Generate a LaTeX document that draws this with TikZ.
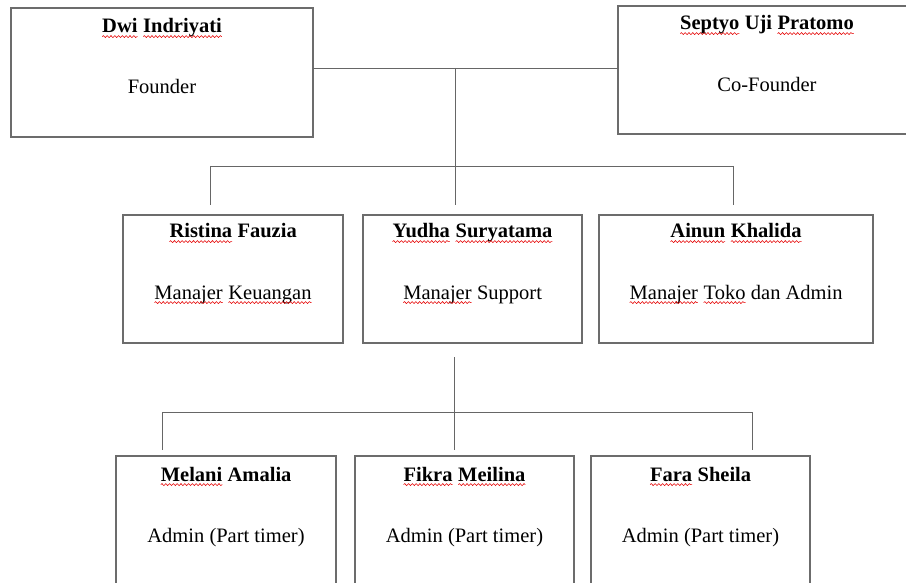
\documentclass[tikz,border=0pt]{standalone}
\usepackage{fontspec}
\setmainfont{Liberation Serif}
\usetikzlibrary{decorations.pathmorphing}
\newcommand\sq[1]{\tikz[baseline=(sqw.base),x=1pt,y=1pt]{\node[inner sep=0pt,outer sep=0pt,anchor=base] (sqw) {#1};
  \draw[red!90!black,line width=0.55pt,decorate,decoration={snake,amplitude=1pt,segment length=3.8pt}] ([yshift=-3.6pt]sqw.base west) -- ([yshift=-3.6pt]sqw.base east);}}
\begin{document}
\begin{tikzpicture}[x=1pt,y=-1pt,
  box/.style={draw=gray!85!black,line width=1.1pt,rectangle,inner sep=0pt},
  conn/.style={draw=gray!80!black,line width=0.9pt},
  nm/.style={anchor=base,font=\fontsize{20.5}{24}\selectfont\bfseries,inner sep=0pt},
  rl/.style={anchor=base,font=\fontsize{20.5}{24}\selectfont,inner sep=0pt}]
\useasboundingbox (0,0) rectangle (906,583);
\clip (0,0) rectangle (906,583);
% top level
\node[box,minimum width=302pt,minimum height=129pt] (dwi) at (162,72.5) {};
\node[box,minimum width=298pt,minimum height=128pt] (sep) at (767,70) {};
\node[nm] (dwin) at (162,33) {\sq{Dwi} \sq{Indriyati}};
\node[rl] (dwir) at (162,94) {Founder};
\node[nm] (sepn) at (767,30) {\sq{Septyo} Uji \sq{Pratomo}};
\node[rl] (sepr) at (767,92) {Co-Founder};
% middle level
\node[box,minimum width=220pt,minimum height=128pt] (ris) at (233,279) {};
\node[box,minimum width=219pt,minimum height=128pt] (yud) at (472.5,279) {};
\node[box,minimum width=274pt,minimum height=128pt] (ain) at (736,279) {};
\node[nm] (risn) at (233,238) {\sq{Ristina} Fauzia};
\node[rl] (risr) at (233,299) {\sq{Manajer} \sq{Keuangan}};
\node[nm] (yudn) at (472.5,238) {\sq{Yudha} \sq{Suryatama}};
\node[rl] (yudr) at (472.5,299) {\sq{Manajer} Support};
\node[nm] (ainn) at (736,238) {\sq{Ainun} \sq{Khalida}};
\node[rl] (ainr) at (736,299) {\sq{Manajer} \sq{Toko} dan Admin};
% bottom level
\node[box,minimum width=220pt,minimum height=150pt] (mel) at (226,531) {};
\node[box,minimum width=219pt,minimum height=150pt] (fik) at (464.5,531) {};
\node[box,minimum width=219pt,minimum height=150pt] (far) at (700.5,531) {};
\node[nm] (meln) at (226,481) {\sq{Melani} Amalia};
\node[rl] (melr) at (226,542) {Admin (Part timer)};
\node[nm] (fikn) at (464.5,481) {\sq{Fikra} \sq{Meilina}};
\node[rl] (fikr) at (464.5,542) {Admin (Part timer)};
\node[nm] (farn) at (700.5,481) {\sq{Fara} Sheila};
\node[rl] (farr) at (700.5,542) {Admin (Part timer)};
% connector coordinates
\coordinate (t1) at (313,68);
\coordinate (t2) at (618,68);
\coordinate (tj) at (455,68);
\coordinate (mj) at (455,166);
\coordinate (ml) at (210,166);
\coordinate (mr) at (733,166);
\coordinate (dl) at (210,205);
\coordinate (dc) at (455,205);
\coordinate (dr) at (733,205);
\coordinate (s1) at (454,357);
\coordinate (bj) at (454,412);
\coordinate (bl) at (162,412);
\coordinate (br) at (752,412);
\coordinate (el) at (162,450);
\coordinate (ec) at (454,450);
\coordinate (er) at (752,450);
% connectors
\draw[conn] (t1) -- (t2);
\draw[conn] (tj) -- (mj);
\draw[conn] (ml) -- (mr);
\draw[conn] (ml) -- (dl);
\draw[conn] (mj) -- (dc);
\draw[conn] (mr) -- (dr);
\draw[conn] (s1) -- (bj);
\draw[conn] (bl) -- (br);
\draw[conn] (bl) -- (el);
\draw[conn] (bj) -- (ec);
\draw[conn] (br) -- (er);
\end{tikzpicture}
\end{document}
